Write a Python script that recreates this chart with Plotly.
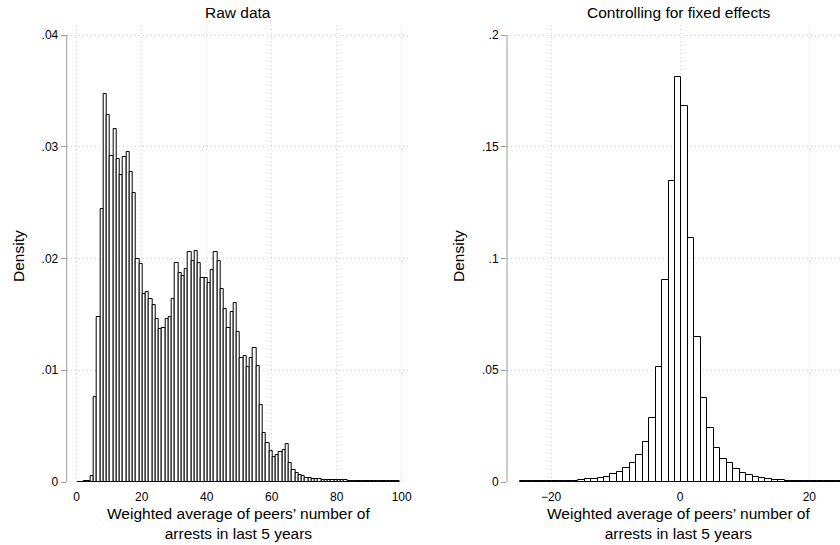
import numpy as np
import plotly.graph_objects as go

W, H = 840, 545

# ---------------- data ----------------
# Left panel: raw data histogram, bin width 1, first bin starts at 0.25
raw_bin_start = 0.25
raw_bin_width = 1.0
raw_density = [
    0.0, 0.0, 0.0001, 0.0001, 0.0005,            # bins 0-4
    0.0076, 0.0148, 0.0244, 0.0347, 0.0328,      # 5-9
    0.0292, 0.0316, 0.0289, 0.0275, 0.0291,      # 10-14
    0.0295, 0.0277, 0.0259, 0.0200, 0.0195,      # 15-19
    0.0168, 0.0170, 0.0164, 0.0158, 0.0146,      # 20-24
    0.0137, 0.0138, 0.0146, 0.0148, 0.0164,      # 25-29
    0.0196, 0.0187, 0.0184, 0.0191, 0.0206,      # 30-34
    0.0198, 0.0207, 0.0196, 0.0183, 0.0183,      # 35-39
    0.0178, 0.0190, 0.0206, 0.0198, 0.0173,      # 40-44
    0.0155, 0.0138, 0.0152, 0.0160, 0.0134,      # 45-49
    0.0111, 0.0113, 0.0103, 0.0111, 0.0120,      # 50-54
    0.0104, 0.0069, 0.0044, 0.0035, 0.0028,      # 55-59
    0.0022, 0.0024, 0.0027, 0.0029, 0.0034,      # 60-64
    0.0017, 0.0011, 0.0008, 0.0006, 0.0005,      # 65-69
    0.0004, 0.0004, 0.0003, 0.0003, 0.0003,      # 70-74
    0.0002, 0.0002, 0.0002, 0.0002, 0.0002,      # 75-79
    0.00015, 0.00015, 0.00015, 0.0001, 0.0001,   # 80-84
    0.0001, 0.0001, 0.0001, 0.0001, 0.0001,      # 85-89
    0.0001, 0.0001, 0.0001, 0.0001, 0.0001,      # 90-94
    0.0001, 0.0001, 0.0001, 0.0001,              # 95-98
]

# Right panel: controlling for fixed effects, bin width 1, first bin starts at -24.8
fe_bin_start = -24.8
fe_bin_width = 1.0
fe_density = [
    0.0003, 0.0003, 0.0003, 0.0003, 0.0003,      # -24.8 ..
    0.0003, 0.0004, 0.0005, 0.0006, 0.0008,
    0.0012, 0.0015, 0.0019, 0.0024, 0.0034,
    0.0046, 0.0061, 0.0086, 0.0121, 0.0178,
    0.0285, 0.0513, 0.0904, 0.1348, 0.1811,      # peak bin [-0.8, 0.2]
    0.1682, 0.1093, 0.0650, 0.0377, 0.0240,
    0.0154, 0.0102, 0.0083, 0.0057, 0.0042,
    0.0031, 0.0024, 0.0018, 0.0013, 0.0010,
    0.0008, 0.0006, 0.0005, 0.0004, 0.0004,
    0.0003, 0.0003, 0.0003, 0.0003, 0.0003,
]

left_title = "Raw data"
right_title = "Controlling for fixed effects"
y_title = "Density"
x_title_lines = ["Weighted average of peers\u2019 number of", "arrests in last 5 years"]

left_xticks = [0, 20, 40, 60, 80, 100]
left_xticktext = ["0", "20", "40", "60", "80", "100"]
left_yticks = [0, 0.01, 0.02, 0.03, 0.04]
left_yticktext = ["0", ".01", ".02", ".03", ".04"]
right_xticks = [-20, 0, 20]
right_xticktext = ["\u221220", "0", "20"]
right_yticks = [0, 0.05, 0.1, 0.15, 0.2]
right_yticktext = ["0", ".05", ".1", ".15", ".2"]

# ---------------- geometry (pixels) ----------------
L_x0, L_x1 = 66.7, 410.0
R_x0, R_x1 = 507.0, 840.0
P_top, P_bot = 25.0, 482.0

def px_x(p):
    return p / W

def px_y(p):
    return 1 - p / H

FONT = "Liberation Sans, Arial, Helvetica, sans-serif"
GRID = "#cfcfcf"
AXIS = "#9a9a9a"

raw_centers = raw_bin_start + raw_bin_width * (np.arange(len(raw_density)) + 0.5)
fe_centers = fe_bin_start + fe_bin_width * (np.arange(len(fe_density)) + 0.5)

fig = go.Figure()
bar_style = dict(marker=dict(color="white", line=dict(color="black", width=1)))
fig.add_trace(go.Bar(x=raw_centers, y=raw_density, width=raw_bin_width,
                     xaxis="x", yaxis="y", showlegend=False, **bar_style))
fig.add_trace(go.Bar(x=fe_centers, y=fe_density, width=fe_bin_width,
                     xaxis="x2", yaxis="y2", showlegend=False, **bar_style))

common_x = dict(showline=False, zeroline=False, showgrid=True, gridcolor=GRID,
                griddash="1px,3px", gridwidth=1, ticks="outside", ticklen=4,
                tickcolor="rgba(0,0,0,0)", tickfont=dict(family=FONT, size=12, color="black"),
                fixedrange=True)
common_y = dict(showline=False, zeroline=False, showgrid=True, gridcolor=GRID,
                griddash="1px,3px", gridwidth=1, ticks="outside", ticklen=5,
                tickcolor=AXIS, tickwidth=1,
                tickfont=dict(family=FONT, size=12, color="black"), fixedrange=True)

fig.update_layout(
    width=W, height=H,
    margin=dict(l=0, r=0, t=0, b=0, autoexpand=False),
    paper_bgcolor="white", plot_bgcolor="white",
    bargap=0, barmode="overlay",
    font=dict(family=FONT, color="black"),
    xaxis=dict(domain=[px_x(L_x0), px_x(L_x1)], anchor="y",
               range=[(L_x0 - 76.7) / 3.25, (L_x1 - 76.7) / 3.25],
               tickvals=left_xticks, ticktext=left_xticktext, **common_x),
    yaxis=dict(domain=[px_y(P_bot), px_y(P_top)], anchor="x",
               range=[0, 0.04 * (P_bot - P_top) / (P_bot - 35.0)],
               tickvals=left_yticks, ticktext=left_yticktext, **common_y),
    xaxis2=dict(domain=[px_x(R_x0), px_x(R_x1)], anchor="y2",
                range=[(R_x0 - 680.2) / 6.455, (R_x1 - 680.2) / 6.455],
                tickvals=right_xticks, ticktext=right_xticktext, **common_x),
    yaxis2=dict(domain=[px_y(P_bot), px_y(P_top)], anchor="x2",
                range=[0, 0.2 * (P_bot - P_top) / (P_bot - 35.0)],
                tickvals=right_yticks, ticktext=right_yticktext, **common_y),
)

# y axis lines (span 0..top tick like the reference)
fig.add_shape(type="line", xref="x domain", yref="y", x0=0, x1=0, y0=0, y1=left_yticks[-1],
              line=dict(color=AXIS, width=1))
fig.add_shape(type="line", xref="x2 domain", yref="y2", x0=0, x1=0, y0=0, y1=right_yticks[-1],
              line=dict(color=AXIS, width=1))

TF = dict(family=FONT, size=15.5, color="black")
ann = []
for cx, title in [((L_x0 + 410.0) / 2, left_title), ((R_x0 + 850.0) / 2, right_title)]:
    ann.append(dict(text=title, x=px_x(cx), y=px_y(12.0), xref="paper", yref="paper",
                    xanchor="center", yanchor="middle", showarrow=False, font=TF))
    ann.append(dict(text="<br>".join(x_title_lines), x=px_x(cx), y=px_y(523.5),
                    xref="paper", yref="paper", xanchor="center", yanchor="middle",
                    showarrow=False, font=TF))
for cx in [18.0, 458.0]:
    ann.append(dict(text=y_title, x=px_x(cx), y=px_y(256.0), xref="paper", yref="paper",
                    xanchor="center", yanchor="middle", textangle=-90, showarrow=False, font=TF))
fig.update_layout(annotations=ann)

fig.write_html("out.html")
